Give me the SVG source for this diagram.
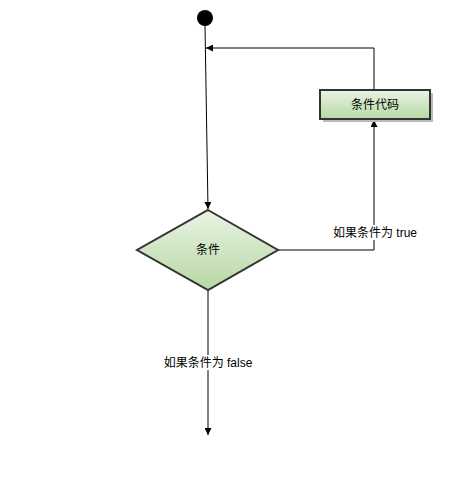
<svg xmlns="http://www.w3.org/2000/svg" width="450" height="480" viewBox="0 0 450 480">
<style>
.lbl{font-family:"Liberation Sans","Noto Sans CJK SC",sans-serif;font-size:12px;fill:#000;text-anchor:middle}
.conn{fill:none;stroke:#000;stroke-width:1}
.shape{fill:url(#g);stroke:#333;stroke-width:2}
</style>
<defs>
<linearGradient id="g" x1="0" y1="0" x2="0" y2="1">
<stop offset="0" stop-color="#eaf3e4"/>
<stop offset="1" stop-color="#b7d8a5"/>
</linearGradient>
<marker id="arr" viewBox="0 0 10 10" refX="10" refY="5" markerWidth="7" markerHeight="7" orient="auto" markerUnits="userSpaceOnUse">
<path d="M0,0 L10,5 L0,10 z" fill="#000"/>
</marker>
</defs>
<rect width="450" height="480" fill="#fff"/>
<g id="connectors">
<path class="conn" d="M205,26 L208,209" marker-end="url(#arr)"/>
<path class="conn" d="M374,90 L374,48 L206,48" marker-end="url(#arr)"/>
<path class="conn" d="M278,250 L374,250 L374,120" marker-end="url(#arr)"/>
<path class="conn" d="M208,290 L208,435" marker-end="url(#arr)"/>
<rect x="331" y="225" width="88" height="15" fill="#fff"/>
<text class="lbl" x="375" y="237">如果条件为 true</text>
<rect x="162" y="355" width="92" height="15" fill="#fff"/>
<text class="lbl" x="208" y="367">如果条件为 false</text>
</g>
<g id="start">
<circle cx="205" cy="18" r="8" fill="#000"/>
</g>
<g id="code">
<rect x="323" y="93" width="110" height="29" fill="#bbb"/>
<rect x="320" y="90" width="110" height="29" class="shape"/>
<text class="lbl" x="375" y="109">条件代码</text>
</g>
<g id="cond">
<polygon points="208,210 278,250 208,290 137,250" class="shape"/>
<text class="lbl" x="208" y="254">条件</text>
</g>
</svg>
